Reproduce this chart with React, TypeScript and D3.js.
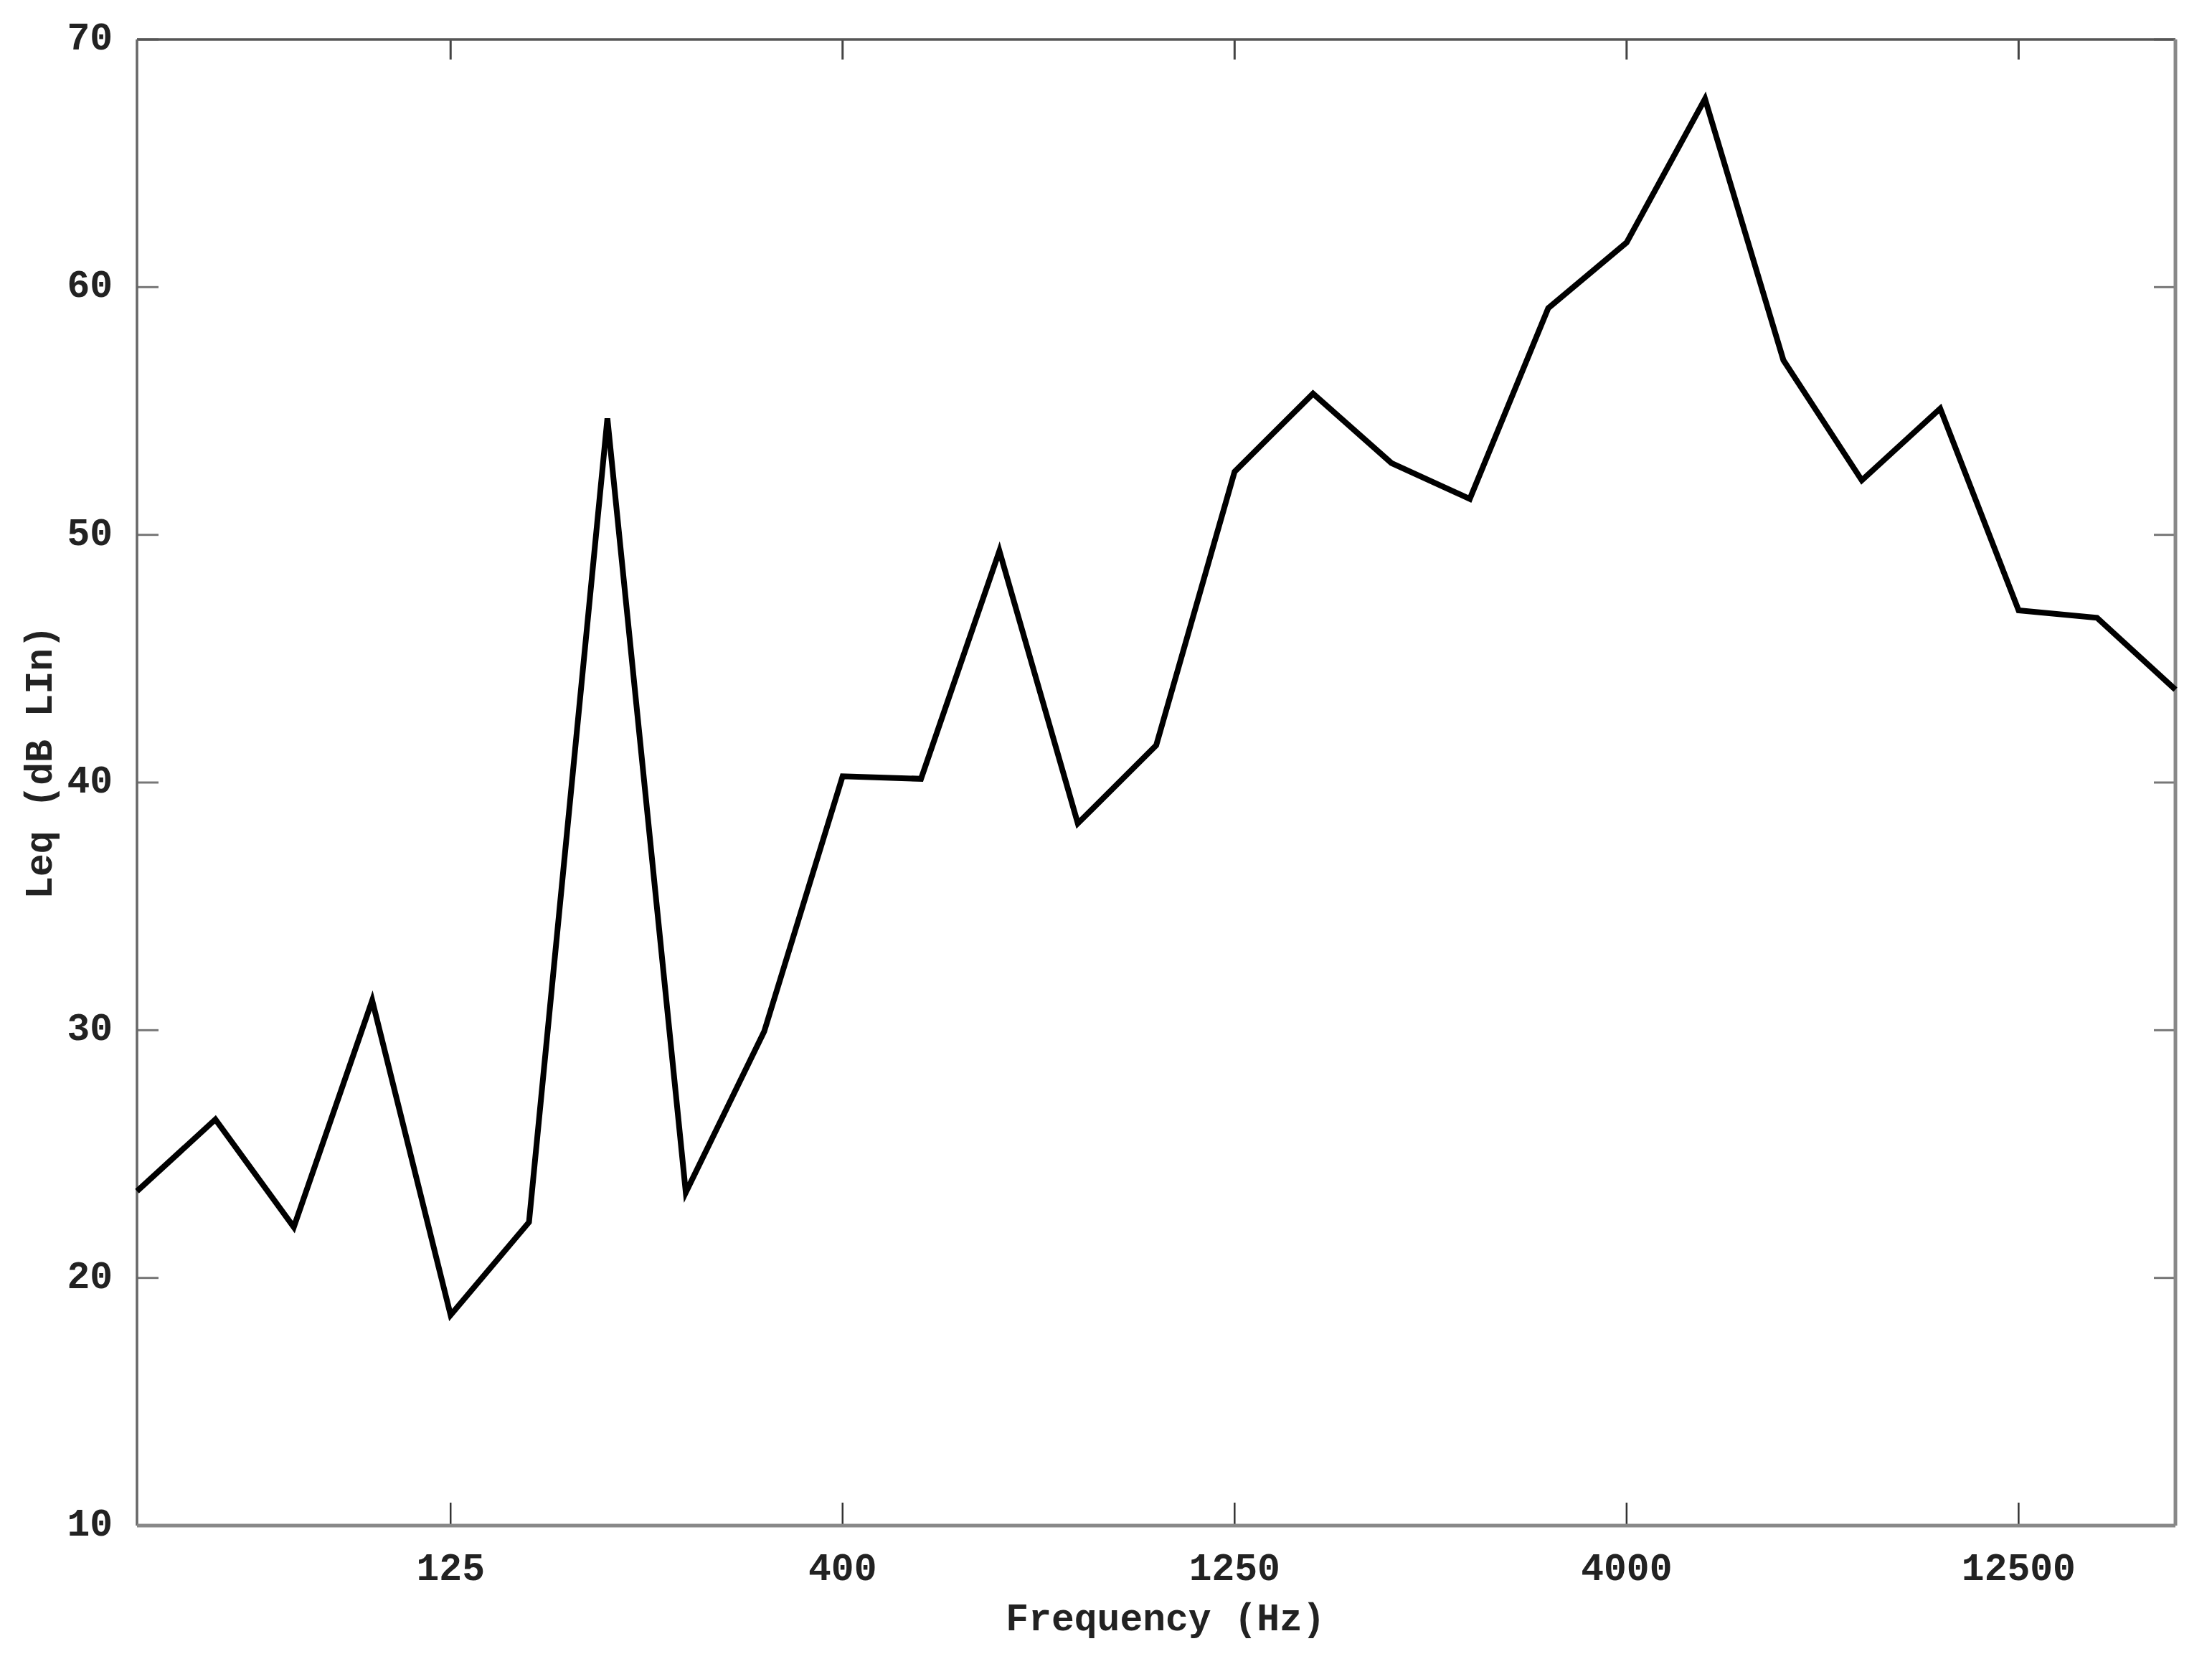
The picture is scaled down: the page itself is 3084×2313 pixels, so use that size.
import React from "react";
import * as d3 from "d3";

const bands: string[] = [
  "50", "63", "80", "100", "125", "160", "200", "250", "315", "400",
  "500", "630", "800", "1000", "1250", "1600", "2000", "2500", "3150", "4000",
  "5000", "6300", "8000", "10000", "12500", "16000", "20000",
];
const leqValues: number[] = [
  23.5, 26.4, 22.05, 31.2, 18.5, 22.25, 54.7, 23.45, 29.95, 40.25,
  40.15, 49.35, 38.35, 41.5, 52.55, 55.7, 52.9, 51.45, 59.15, 61.8,
  67.6, 57.05, 52.2, 55.1, 46.95, 46.65, 43.75,
];
const xTickLabels: string[] = ["125", "400", "1250", "4000", "12500"];
const yTickValues: number[] = [10, 20, 30, 40, 50, 60, 70];

const W = 3084;
const H = 2313;
const left = 191;
const right = 3033;
const top = 55;
const bottom = 2127;
const FONT = "'Liberation Mono', 'DejaVu Sans Mono', monospace";

export default function App() {
  const x = d3.scalePoint<string>().domain(bands).range([left, right]);
  const y = d3.scaleLinear().domain([10, 70]).range([bottom, top]);
  const line = d3
    .line<number>()
    .x((_, i) => x(bands[i]) as number)
    .y((d) => y(d));
  const path = line(leqValues) || "";

  return (
    <svg
      width={W}
      height={H}
      viewBox={`0 0 ${W} ${H}`}
      style={{ position: "absolute", left: 0, top: 0, background: "#fff" }}
    >
      <rect x={0} y={0} width={W} height={H} fill="#fff" />
      {/* y ticks */}
      {yTickValues.map((v) => (
        <g key={"y" + v}>
          <line x1={left} x2={left + 30} y1={y(v)} y2={y(v)} stroke="#777" strokeWidth={3} />
          <line x1={right - 30} x2={right} y1={y(v)} y2={y(v)} stroke="#777" strokeWidth={3} />
          <text
            x={157}
            y={y(v)}
            textAnchor="end"
            dominantBaseline="central"
            fontFamily={FONT}
            fontWeight="bold"
            fontSize={53}
            fill="#222"
          >
            {v}
          </text>
        </g>
      ))}
      {/* x ticks */}
      {xTickLabels.map((t) => (
        <g key={"x" + t}>
          <line x1={x(t)} x2={x(t)} y1={bottom} y2={bottom - 32} stroke="#333" strokeWidth={2.5} />
          <line x1={x(t)} x2={x(t)} y1={top} y2={top + 28} stroke="#444" strokeWidth={3} />
          <text
            x={x(t)}
            y={2203}
            textAnchor="middle"
            fontFamily={FONT}
            fontWeight="bold"
            fontSize={53}
            fill="#222"
          >
            {t}
          </text>
        </g>
      ))}
      {/* frame */}
      <line x1={left} x2={right} y1={top} y2={top} stroke="#555" strokeWidth={3.5} />
      <line x1={left} x2={left} y1={top} y2={bottom} stroke="#666" strokeWidth={3.5} />
      <line x1={left} x2={right} y1={bottom} y2={bottom} stroke="#888" strokeWidth={5} />
      <line x1={right} x2={right} y1={top} y2={bottom} stroke="#888" strokeWidth={5} />
      {/* data */}
      <path d={path} fill="none" stroke="#000" strokeWidth={8} strokeLinejoin="miter" strokeMiterlimit={4} />
      {/* axis titles */}
      <text
        x={1625}
        y={2273}
        textAnchor="middle"
        fontFamily={FONT}
        fontWeight="bold"
        fontSize={53}
        fill="#222"
      >
        Frequency (Hz)
      </text>
      <text
        transform={`translate(72, 1063) rotate(-90)`}
        textAnchor="middle"
        fontFamily={FONT}
        fontWeight="bold"
        fontSize={53}
        fill="#222"
      >
        Leq (dB LIn)
      </text>
    </svg>
  );
}
